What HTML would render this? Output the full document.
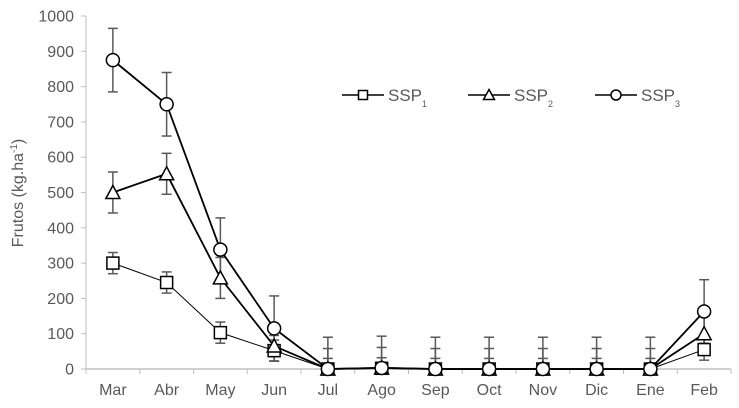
<!DOCTYPE html>
<html><head><meta charset="utf-8"><style>
body{margin:0;background:#fff;}
svg{display:block;font-family:"Liberation Sans",Arial,sans-serif;}
</style></head><body>
<svg id="c" width="739" height="408"></svg>
<script>
const categories=["Mar","Abr","May","Jun","Jul","Ago","Sep","Oct","Nov","Dic","Ene","Feb"];
const ssp1=[300,245,103,52,0,2,0,0,0,0,0,55];
const ssp2=[500,553,258,65,0,3,0,0,0,0,0,100];
const ssp3=[875,750,338,115,0,3,0,0,0,0,0,163];
const err1=[30,30,30,30,30,30,30,30,30,30,30,30];
const err2=[58,58,58,30,58,58,58,58,58,58,58,58];
const err3=[90,90,90,92,90,90,90,90,90,90,90,90];
const yTicks=[0,100,200,300,400,500,600,700,800,900,1000];
const seriesNames=["SSP","SSP","SSP"];
const seriesSubs=["1","2","3"];

const svg=document.getElementById('c');
const NS='http://www.w3.org/2000/svg';
const X0=86,X1=731,Y0=369,Y1=16;
const bw=(X1-X0)/categories.length;
const xs=i=>X0+bw*(i+0.5);
const ys=v=>Y0-(v/1000)*(Y0-Y1);
function mk(t,a,p){const e=document.createElementNS(NS,t);for(const k in a)e.setAttribute(k,a[k]);(p||svg).appendChild(e);return e;}

let ax=mk('line',{x1:X0,y1:Y1,x2:X0,y2:Y0,stroke:'#bfbfbf','stroke-width':1});


yTicks.forEach(v=>{
  const t=mk('text',{x:X0-12,y:ys(v)+5.5,'text-anchor':'end','font-size':16,fill:'#595959'});
  t.textContent=v;
  
  
  mk('line',{x1:X0-5,y1:ys(v),x2:X0,y2:ys(v),stroke:'#bfbfbf'});
});
const yt=mk('text',{transform:'translate(23,193) rotate(-90)','text-anchor':'middle','font-size':16,fill:'#595959'});
yt.innerHTML='Frutos (kg.ha<tspan dy="-6" font-size="10">-1</tspan><tspan dy="6">)</tspan>';



let xa=mk('line',{x1:X0,y1:Y0,x2:X1,y2:Y0,stroke:'#bfbfbf','stroke-width':1.5});


for(let i=0;i<=categories.length;i++){mk('line',{x1:X0+bw*i,y1:Y0,x2:X0+bw*i,y2:Y0+5,stroke:'#bfbfbf'});}
categories.forEach((c,i)=>{
  const t=mk('text',{x:xs(i),y:Y0+26,'text-anchor':'middle','font-size':16,fill:'#595959'});
  t.textContent=c;
  
  
});

function marker(type,x,y,g,sz){
  sz=sz||6;
  if(type===0) return mk('rect',{x:x-sz,y:y-sz,width:2*sz,height:2*sz,fill:'#fff',stroke:'#000','stroke-width':1.5},g);
  if(type===1) return mk('polygon',{points:`${x},${y-sz-1} ${x+sz+1},${y+sz} ${x-sz-1},${y+sz}`,fill:'#fff',stroke:'#000','stroke-width':1.5},g);
  return mk('circle',{cx:x,cy:y,r:sz+0.5,fill:'#fff',stroke:'#000','stroke-width':1.5},g);
}
const all=[[ssp1,err1,1],[ssp2,err2,1.8],[ssp3,err3,1.8]];
all.forEach(([d,e],s)=>{
  d.forEach((v,i)=>{
    const x=xs(i),top=ys(v+e[i]),bot=ys(Math.max(0,v-e[i]));
    const g=mk('g',{stroke:'#595959','stroke-width':1.5});
    
    
    mk('line',{x1:x,y1:top,x2:x,y2:bot},g);
    mk('line',{x1:x-5,y1:top,x2:x+5,y2:top},g);
    mk('line',{x1:x-5,y1:bot,x2:x+5,y2:bot},g);
  });
});
all.forEach(([d,e,w],s)=>{
  const g=mk('g',{});
  
  
  mk('polyline',{points:d.map((v,i)=>xs(i)+','+ys(v)).join(' '),fill:'none',stroke:'#000','stroke-width':w},g);
  d.forEach((v,i)=>{
    const m=marker(s,xs(i),ys(v),g,6);
    
    
  });
});
const lx=[342,468,595];
lx.forEach((x,s)=>{
  const g=mk('g',{});
  
  
  mk('line',{x1:x,y1:95,x2:x+42,y2:95,stroke:'#000','stroke-width':1.5},g);
  marker(s,x+21,95,g,4.5);
  const t=mk('text',{x:x+46,y:101,'font-size':17,fill:'#595959'},g);
  t.innerHTML=seriesNames[s]+'<tspan dy="6" font-size="9">'+seriesSubs[s]+'</tspan>';
});
</script>
</body></html>
